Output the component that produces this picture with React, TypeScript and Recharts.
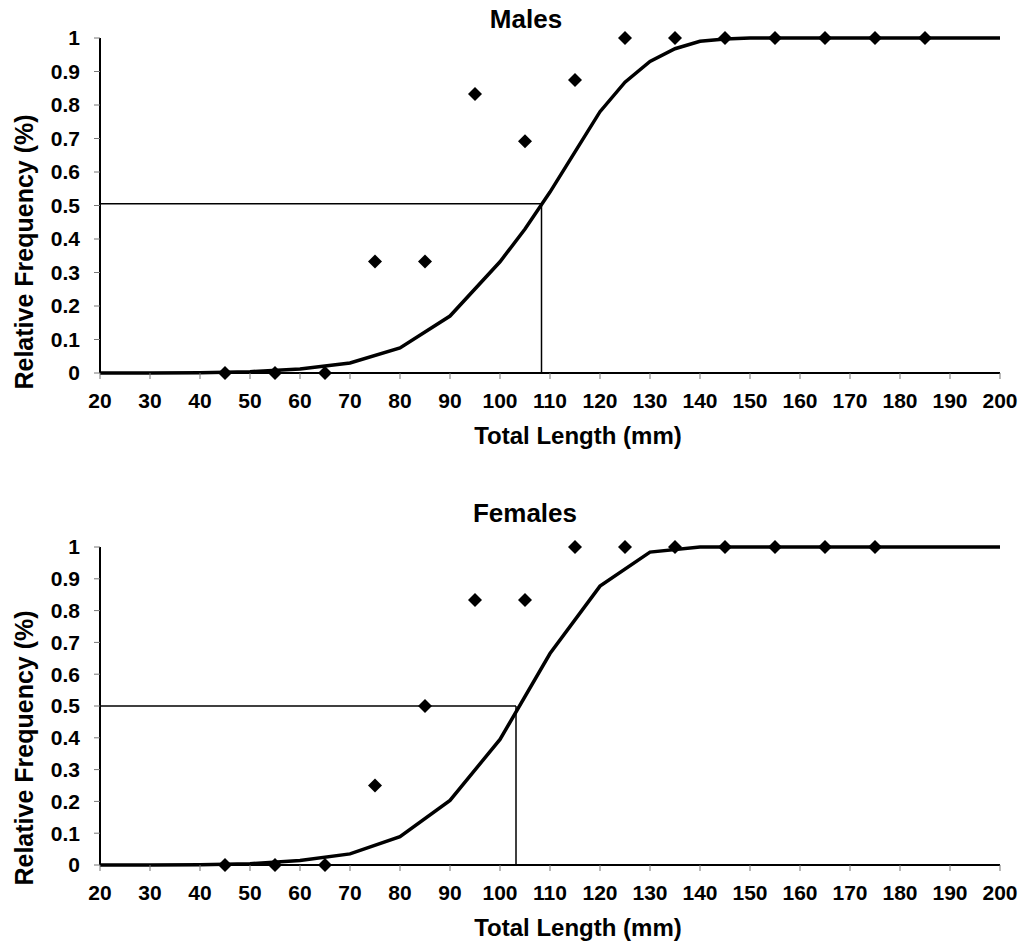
import React from 'react'
import { ComposedChart, Line, Scatter, XAxis, YAxis, ReferenceLine } from 'recharts'

// fitted maturity curves (length mm -> proportion)
const maleFitLengths = [20, 30, 40, 50, 60, 70, 80, 90, 100, 105, 110, 115, 120, 125, 130, 135, 140, 145, 150, 160, 170, 180, 190, 200]
const maleFit = [0, 0, 0.001, 0.004, 0.012, 0.03, 0.075, 0.17, 0.332, 0.43, 0.54, 0.66, 0.78, 0.868, 0.93, 0.968, 0.99, 0.997, 1, 1, 1, 1, 1, 1]
const femaleFitLengths = [20, 30, 40, 50, 60, 70, 80, 90, 100, 110, 120, 130, 140, 150, 160, 170, 180, 190, 200]
const femaleFit = [0, 0, 0.001, 0.004, 0.014, 0.035, 0.089, 0.203, 0.395, 0.665, 0.877, 0.984, 1, 1, 1, 1, 1, 1, 1]

// observed proportions mature, by class midpoint
const maleLengths = [45, 55, 65, 75, 85, 95, 105, 115, 125, 135, 145, 155, 165, 175, 185]
const maleObserved = [0, 0, 0, 0.333, 0.333, 0.833, 0.692, 0.875, 1, 1, 1, 1, 1, 1, 1]
const femaleLengths = [45, 55, 65, 75, 85, 95, 105, 115, 125, 135, 145, 155, 165, 175]
const femaleObserved = [0, 0, 0, 0.25, 0.5, 0.833, 0.833, 1, 1, 1, 1, 1, 1, 1]

// length at 50% maturity
const maleL50 = 108.3
const maleL50Level = 0.505
const femaleL50 = 103.2
const femaleL50Level = 0.5

const xTicks = [20, 30, 40, 50, 60, 70, 80, 90, 100, 110, 120, 130, 140, 150, 160, 170, 180, 190, 200]
const yTicks = [0, 0.1, 0.2, 0.3, 0.4, 0.5, 0.6, 0.7, 0.8, 0.9, 1]

const FONT = '"Liberation Sans", Arial, sans-serif'

const Diamond = (props: any) => {
  const { cx, cy } = props
  if (cx == null || cy == null) return null
  const r = 7
  return <polygon points={`${cx},${cy - r} ${cx + r},${cy} ${cx},${cy + r} ${cx - r},${cy}`} fill="#000" />
}

interface PanelProps {
  fitLengths: number[]
  fit: number[]
  lengths: number[]
  observed: number[]
  l50: number
  l50Level: number
  height: number
  margin: { top: number; right: number; bottom: number; left: number }
}

function Panel({ fitLengths, fit, lengths, observed, l50, l50Level, height, margin }: PanelProps) {
  const curve = fitLengths.map((x, i) => ({ x, y: fit[i] }))
  const points = lengths.map((x, i) => ({ x, y: observed[i] }))
  const tick = { fontSize: 21, fontWeight: 700, fill: '#000', fontFamily: FONT }

  return (
    <ComposedChart width={1025} height={height} margin={margin}>
      <XAxis
        type="number"
        dataKey="x"
        domain={[20, 200]}
        ticks={xTicks}
        interval={0}
        height={30}
        tick={tick}
        tickSize={6}
        tickMargin={14}
        axisLine={{ stroke: '#000', strokeWidth: 2 }}
        tickLine={{ stroke: '#777', strokeWidth: 1 }}
      />
      <YAxis
        type="number"
        dataKey="y"
        domain={[0, 1]}
        ticks={yTicks}
        interval={0}
        width={60}
        tick={tick}
        tickSize={6}
        tickMargin={14}
        tickFormatter={(v) => String(v)}
        axisLine={{ stroke: '#000', strokeWidth: 2 }}
        tickLine={{ stroke: '#777', strokeWidth: 1 }}
      />
      <ReferenceLine
        segment={[{ x: 20, y: l50Level }, { x: l50, y: l50Level }]}
        stroke="#000"
        strokeWidth={1.5}
      />
      <ReferenceLine
        segment={[{ x: l50, y: 0 }, { x: l50, y: l50Level }]}
        stroke="#000"
        strokeWidth={1.5}
      />
      <Line
        data={curve}
        dataKey="y"
        type="linear"
        stroke="#000"
        strokeWidth={3.5}
        dot={false}
        isAnimationActive={false}
      />
      <Scatter data={points} dataKey="y" shape={Diamond} isAnimationActive={false} />
    </ComposedChart>
  )
}

export default function App() {
  const titleStyle = { fontSize: 26, fontWeight: 700, fontFamily: FONT }
  const axisTitle = { fontSize: 24, fontWeight: 700, fontFamily: FONT }
  return (
    <div style={{ position: 'absolute', top: 0, left: 0, width: 1025, height: 944, background: '#fff' }}>
      <div style={{ position: 'absolute', top: 0, left: 0 }}>
        <Panel
          fitLengths={maleFitLengths}
          fit={maleFit}
          lengths={maleLengths}
          observed={maleObserved}
          l50={maleL50}
          l50Level={maleL50Level}
          height={472}
          margin={{ top: 38, right: 25, bottom: 69, left: 40 }}
        />
      </div>
      <div style={{ position: 'absolute', top: 472, left: 0 }}>
        <Panel
          fitLengths={femaleFitLengths}
          fit={femaleFit}
          lengths={femaleLengths}
          observed={femaleObserved}
          l50={femaleL50}
          l50Level={femaleL50Level}
          height={472}
          margin={{ top: 75, right: 25, bottom: 49, left: 40 }}
        />
      </div>
      <svg width={1025} height={944} style={{ position: 'absolute', top: 0, left: 0, pointerEvents: 'none' }}>
        <text x={526} y={28} textAnchor="middle" style={titleStyle}>Males</text>
        <text x={525} y={522} textAnchor="middle" style={titleStyle}>Females</text>
        <text x={578} y={444} textAnchor="middle" style={axisTitle}>Total Length (mm)</text>
        <text x={578} y={936} textAnchor="middle" style={axisTitle}>Total Length (mm)</text>
        <text transform="translate(33,252) rotate(-90)" textAnchor="middle" style={{ ...axisTitle, fontSize: 25 }}>
          Relative Frequency (%)
        </text>
        <text transform="translate(33,748) rotate(-90)" textAnchor="middle" style={{ ...axisTitle, fontSize: 25 }}>
          Relative Frequency (%)
        </text>
      </svg>
    </div>
  )
}
